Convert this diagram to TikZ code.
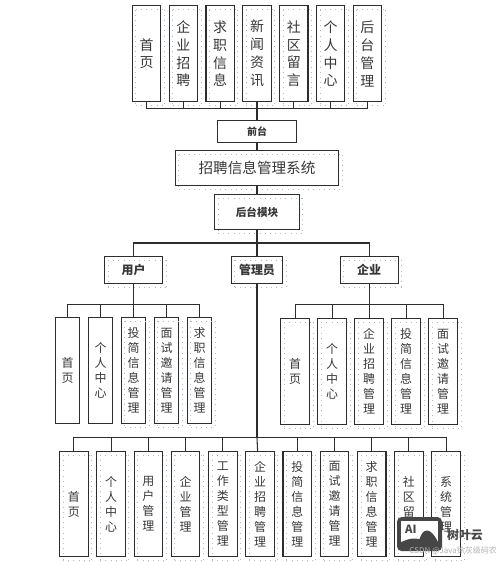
\documentclass[tikz,border=0pt]{standalone}
\usepackage{fontspec}
\setmainfont{Noto Sans CJK SC}
\usetikzlibrary{positioning,calc}
\definecolor{grila}{RGB}{172,188,196}
\definecolor{linie}{RGB}{45,45,45}
\definecolor{text}{RGB}{55,55,55}
\definecolor{sigla}{RGB}{70,70,70}
\tikzset{
  bloc/.style     = {draw=linie, line width=.8pt, align=center, inner sep=0pt, outer sep=0pt, text=text},
  punctat/.style  = {append after command={
                     ([xshift=.9mm,yshift=-1mm]\tikzlastnode.north west) edge[puncte] ([xshift=.9mm,yshift=-1mm]\tikzlastnode.north east)
                     ([xshift=.9mm,yshift=-1mm]\tikzlastnode.north west) edge[puncte] ([xshift=.9mm,yshift=-1mm]\tikzlastnode.south west)
                     ([xshift=.9mm,yshift=-1mm]\tikzlastnode.south west) edge[puncte] ([xshift=.9mm,yshift=-1mm]\tikzlastnode.south east)
                     ([xshift=.9mm,yshift=-1mm]\tikzlastnode.north east) edge[puncte] ([xshift=.9mm,yshift=-1mm]\tikzlastnode.south east)}},
  puncte/.style   = {draw=grila, line width=.45pt, dash pattern=on .5pt off 3.4pt},
  sus/.style      = {bloc, punctat, minimum width=7.5mm, minimum height=25.3mm,
                     font=\fontsize{10.5}{13.5}\selectfont},
  jos/.style      = {bloc, minimum width=7.55mm, minimum height=28mm,
                     font=\fontsize{9}{11.3}\selectfont},
  ingust/.style   = {jos, minimum width=6.56mm},
  titlu/.style    = {bloc, font=\fontsize{9}{11}\selectfont\bfseries, minimum height=7.2mm},
  legatura/.style = {draw=linie, line width=.8pt}
}
\begin{document}
\begin{tikzpicture}[node distance=2.24mm]
        \useasboundingbox (0,0) rectangle (132.29mm,-148.7mm);

        % centrul schemei
        \node[bloc, punctat, minimum width=43.2mm, minimum height=9.3mm, font=\fontsize{11}{13}\selectfont] (sistem) at (68mm,-44.55mm) {招聘信息管理系统};
        \node[bloc, minimum width=20.9mm, minimum height=6mm, font=\fontsize{7.5}{9}\selectfont\bfseries, above=2.1mm of sistem] (front) {前台};
        \node[bloc, punctat, minimum width=22.4mm, minimum height=9.3mm, font=\fontsize{8}{10}\selectfont\bfseries, below=2.3mm of sistem] (back) {后台模块};

        % rândul de sus
        \node[sus, above=4.95mm of front] (stiri) {新\\闻\\资\\讯};
        \node[sus, left=of stiri] (cereri) {求\\职\\信\\息};
        \node[sus, left=of cereri] (firme) {企\\业\\招\\聘};
        \node[sus, left=of firme] (acasa) {首\\页};
        \node[sus, right=of stiri] (comunitate) {社\\区\\留\\言};
        \node[sus, right=of comunitate] (personal) {个\\人\\中\\心};
        \node[sus, right=of personal] (admin) {后\\台\\管\\理};

        % cele trei roluri
        \node[titlu, punctat, minimum width=13.65mm, below=7.06mm of back] (manager) {管理员};
        \node[titlu, punctat, minimum width=15.3mm, left=18.2mm of manager] (user) {用户};
        \node[titlu, punctat, minimum width=15.3mm, right=15.2mm of manager] (firma) {企业};

        % modulele utilizatorului
        \node[ingust, punctat, below=9mm of user] (uCv) {投\\简\\信\\息\\管\\理};
        \node[ingust, left=2.17mm of uCv] (uPersonal) {个\\人\\中\\心};
        \node[ingust, left=2.17mm of uPersonal] (uAcasa) {首\\页};
        \node[ingust, punctat, right=2.17mm of uCv] (uInvit) {面\\试\\邀\\请\\管\\理};
        \node[ingust, punctat, right=2.17mm of uInvit] (uCereri) {求\\职\\信\\息\\管\\理};

        % modulele firmei
        \node[jos, punctat, below=9.2mm of firma] (fAnunt) {企\\业\\招\\聘\\管\\理};
        \node[jos, punctat, left=of fAnunt] (fPersonal) {个\\人\\中\\心};
        \node[jos, punctat, left=of fPersonal] (fAcasa) {首\\页};
        \node[jos, punctat, right=of fAnunt] (fCv) {投\\简\\信\\息\\管\\理};
        \node[jos, punctat, right=of fCv] (fInvit) {面\\试\\邀\\请\\管\\理};

        % modulele administratorului
        \node[jos, punctat, below=44.3mm of manager, xshift=.8mm] (mAnunt) {企\\业\\招\\聘\\管\\理};
        \node[jos, punctat, left=2.3mm of mAnunt] (mTip) {工\\作\\类\\型\\管\\理};
        \node[jos, punctat, left=2.3mm of mTip] (mFirme) {企\\业\\管\\理};
        \node[jos, punctat, left=2.3mm of mFirme] (mUser) {用\\户\\管\\理};
        \node[jos, punctat, left=2.3mm of mUser] (mPersonal) {个\\人\\中\\心};
        \node[jos, punctat, left=2.3mm of mPersonal] (mAcasa) {首\\页};
        \node[jos, punctat, right=2.3mm of mAnunt] (mCv) {投\\简\\信\\息\\管\\理};
        \node[jos, punctat, right=2.3mm of mCv] (mInvit) {面\\试\\邀\\请\\管\\理};
        \node[jos, punctat, right=2.3mm of mInvit] (mCereri) {求\\职\\信\\息\\管\\理};
        \node[jos, punctat, right=2.3mm of mCereri] (mComunitate) {社\\区\\留\\言};
        \node[jos, punctat, right=2.3mm of mComunitate] (mSistem) {系\\统\\管\\理};

        % punctele de ramificare
        \coordinate[above=3.15mm of front] (busSus);
        \coordinate[below=3.5mm of back] (busRoluri);
        \coordinate[below=5.6mm of user] (busUser);
        \coordinate[below=5.6mm of firma] (busFirma);
        \coordinate (busManager) at ($(mAnunt.north -| manager)+(0,3.5mm)$);

        \draw[legatura] (front) -- (sistem);
        \draw[legatura] (sistem) -- (back);
        \draw[legatura] (front) -- (busSus);
        \draw[legatura] (acasa) |- (busSus);
        \draw[legatura] (firme) |- (busSus);
        \draw[legatura] (cereri) |- (busSus);
        \draw[legatura] (stiri) |- (busSus);
        \draw[legatura] (comunitate) |- (busSus);
        \draw[legatura] (personal) |- (busSus);
        \draw[legatura] (admin) |- (busSus);

        \draw[legatura] (back) -- (busRoluri);
        \draw[legatura] (user) |- (busRoluri);
        \draw[legatura] (firma) |- (busRoluri);
        \draw[legatura] (busRoluri) -- (manager);

        \draw[legatura] (user) -- (busUser);
        \draw[legatura] (uAcasa) |- (busUser);
        \draw[legatura] (uPersonal) |- (busUser);
        \draw[legatura] (uCv) |- (busUser);
        \draw[legatura] (uInvit) |- (busUser);
        \draw[legatura] (uCereri) |- (busUser);

        \draw[legatura] (firma) -- (busFirma);
        \draw[legatura] (fAcasa) |- (busFirma);
        \draw[legatura] (fPersonal) |- (busFirma);
        \draw[legatura] (fAnunt) |- (busFirma);
        \draw[legatura] (fCv) |- (busFirma);
        \draw[legatura] (fInvit) |- (busFirma);

        \draw[legatura] (manager) -- (busManager);
        \draw[legatura] (busManager) -- (mAnunt);
        \draw[legatura] (mAcasa) |- (busManager);
        \draw[legatura] (mPersonal) |- (busManager);
        \draw[legatura] (mUser) |- (busManager);
        \draw[legatura] (mFirme) |- (busManager);
        \draw[legatura] (mTip) |- (busManager);
        \draw[legatura] (mCv) |- (busManager);
        \draw[legatura] (mInvit) |- (busManager);
        \draw[legatura] (mCereri) |- (busManager);
        \draw[legatura] (mComunitate) |- (busManager);
        \draw[legatura] (mSistem) |- (busManager);

        % sigla din colț
        \node[fill=sigla, rounded corners=1.2mm, minimum width=11.9mm, minimum height=9mm, inner sep=0pt] (sigla) at (111.0mm,-141.3mm) {};
        \fill[white] ([xshift=1.1mm,yshift=-1.1mm]sigla.north west) rectangle ([xshift=-1.1mm,yshift=2.4mm]sigla.south east);
        \fill[sigla] ([xshift=1.1mm,yshift=2.4mm]sigla.south west) .. controls ([xshift=3mm,yshift=3.4mm]sigla.south west) and ([xshift=5mm,yshift=3.6mm]sigla.south west) .. ([xshift=6mm,yshift=3.2mm]sigla.south west) .. controls ([xshift=7mm,yshift=6.4mm]sigla.south west) and ([xshift=9mm,yshift=6.4mm]sigla.south west) .. ([xshift=-1.1mm,yshift=2.4mm]sigla.south east) -- cycle;
        \node[font=\fontsize{8.5}{9}\selectfont\bfseries, text=sigla, inner sep=0pt] (ai) at ([xshift=-2.3mm,yshift=1.2mm]sigla.center) {AI};
        \node[font=\fontsize{9}{9}\selectfont\bfseries, text=sigla, anchor=west, inner sep=0pt] (marca) at ([xshift=1.2mm,yshift=-.3mm]sigla.east) {树叶云};
        \node[font=\fontsize{6}{7}\selectfont, text=black!30, anchor=north east, inner sep=0pt] (csdn) at (131.5mm,-144.6mm) {CSDN @Java徐灰级码农};
    \end{tikzpicture}
\end{document}
